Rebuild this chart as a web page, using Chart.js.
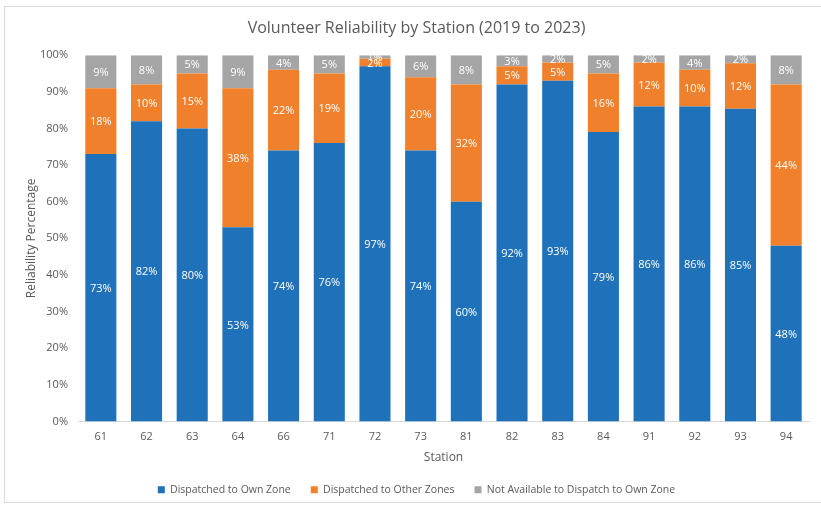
<!DOCTYPE html>
<html>
<head>
<meta charset="utf-8">
<style>
  html, body { margin: 0; padding: 0; background: #ffffff; }
  #wrap { position: relative; width: 821px; height: 505px; }
</style>
<script src="https://cdn.jsdelivr.net/npm/chart.js@4.4.1/dist/chart.umd.min.js"></script>
</head>
<body>
<div id="wrap"><canvas id="chart" width="821" height="505"></canvas></div>
<script>
// Stations and their share of calls (percent) by outcome, 2019 to 2023
const stations = ['61', '62', '63', '64', '66', '71', '72', '73', '81', '82', '83', '84', '91', '92', '93', '94'];
const ownZone = [73, 82, 80, 53, 74, 76, 97, 74, 60, 92, 93, 79, 86, 86, 85.4, 48];
const otherZones = [18, 10, 15, 38, 22, 19, 2, 20, 32, 5, 5, 16, 12, 10, 12.4, 44];
const notAvailable = [9, 8, 5, 9, 4, 5, 1, 6, 8, 3, 2, 5, 2, 4, 2.2, 8];
const yTicks = [0, 10, 20, 30, 40, 50, 60, 70, 80, 90, 100];

const FONT = "'Open Sans', 'Noto Sans', sans-serif";
const TEXT = '#595959';

// Percent labels drawn in the middle of each bar segment
const segmentLabels = {
  id: 'segmentLabels',
  afterDatasetsDraw(chart) {
    const ctx = chart.ctx;
    ctx.save();
    ctx.font = '11px ' + FONT;
    ctx.fillStyle = '#ffffff';
    ctx.textAlign = 'center';
    ctx.textBaseline = 'middle';
    chart.data.datasets.forEach((ds, i) => {
      const meta = chart.getDatasetMeta(i);
      meta.data.forEach((bar, j) => {
        const v = ds.data[j];
        const y = (bar.y + bar.base) / 2;
        ctx.fillText(Math.round(v) + '%', bar.x, y + 1);
      });
    });
    ctx.restore();
  }
};

// Thin frame round the whole chart
const frame = {
  id: 'frame',
  beforeDraw(chart) {
    const ctx = chart.ctx;
    ctx.save();
    ctx.fillStyle = '#ffffff';
    ctx.fillRect(0, 0, chart.width, chart.height);
    ctx.strokeStyle = '#d9d9d9';
    ctx.lineWidth = 1;
    ctx.strokeRect(4.5, 6.5, chart.width + 10, chart.height - 9);
    ctx.restore();
  }
};

new Chart(document.getElementById('chart'), {
  type: 'bar',
  data: {
    labels: stations,
    datasets: [
      { label: 'Dispatched to Own Zone', data: ownZone, backgroundColor: '#1f72ba' },
      { label: 'Dispatched to Other Zones', data: otherZones, backgroundColor: '#f0802c' },
      { label: 'Not Available to Dispatch to Own Zone', data: notAvailable, backgroundColor: '#a5a5a5' }
    ]
  },
  options: {
    responsive: false,
    animation: false,
    devicePixelRatio: 1,
    categoryPercentage: 0.68,
    barPercentage: 1.0,
    layout: { padding: { left: 24, right: 12, top: 0, bottom: 0 } },
    plugins: {
      title: {
        display: true,
        text: 'Volunteer Reliability by Station (2019 to 2023)',
        color: TEXT,
        font: { family: FONT, size: 16, weight: 'normal' },
        padding: { top: 19, bottom: 17 }
      },
      legend: {
        position: 'bottom',
        labels: {
          color: TEXT,
          font: { family: FONT, size: 10.5 },
          boxWidth: 7,
          boxHeight: 7,
          padding: 20
        }
      },
      tooltip: { enabled: false }
    },
    scales: {
      x: {
        stacked: true,
        grid: { display: false, drawTicks: false },
        border: { color: '#d9d9d9' },
        ticks: { color: TEXT, font: { family: FONT, size: 11 }, padding: 9 },
        title: { display: true, text: 'Station', color: TEXT, font: { family: FONT, size: 12 }, padding: { top: 2, bottom: 0 } },
        afterFit(s) { s.height = 43; }
      },
      y: {
        stacked: true,
        min: 0,
        max: 100,
        afterBuildTicks(s) { s.ticks = yTicks.map(v => ({ value: v })); },
        grid: { display: false, drawTicks: false },
        border: { display: false },
        ticks: { color: TEXT, font: { family: FONT, size: 11 }, padding: 10, callback: v => v + '%' },
        title: { display: true, text: 'Reliability Percentage', color: TEXT, font: { family: FONT, size: 12 }, padding: { top: 0, bottom: 4 } },
        afterFit(s) { s.width = 54; }
      }
    }
  },
  plugins: [frame, segmentLabels]
});
</script>
</body>
</html>
